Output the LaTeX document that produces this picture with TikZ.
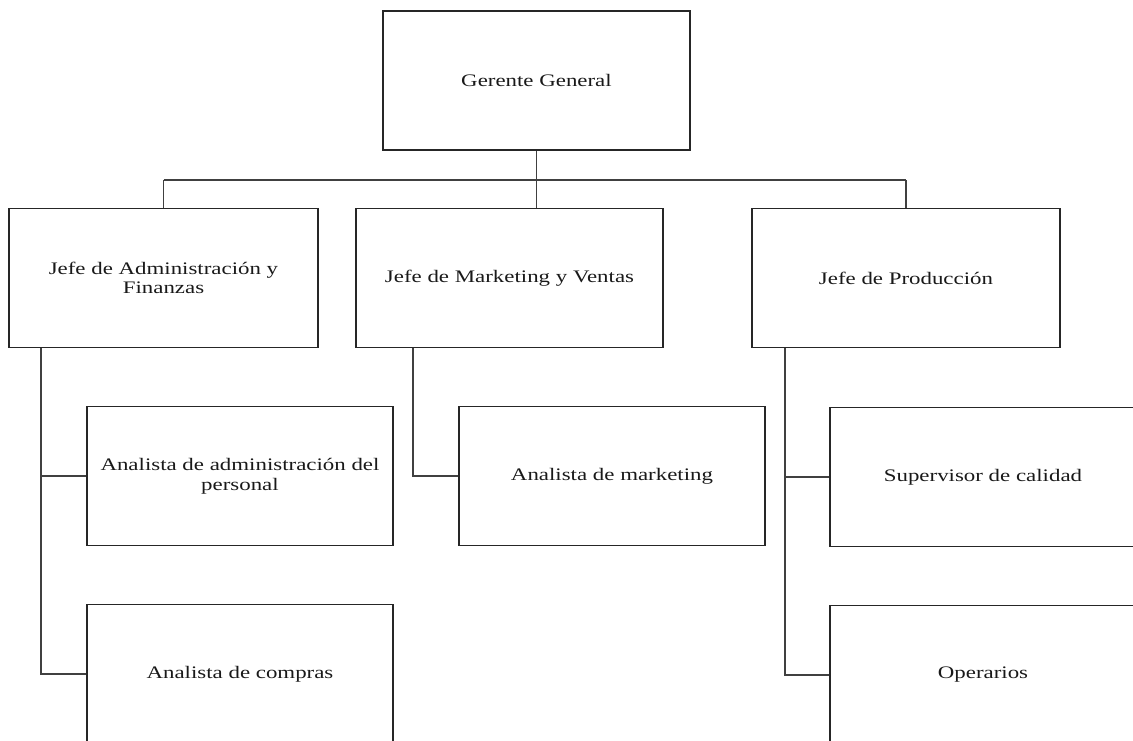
\documentclass[tikz,border=0pt]{standalone}
\usepackage{fontspec}
\setmainfont[FakeStretch=1.3]{Liberation Serif}
\begin{document}
\begin{tikzpicture}[x=1pt,y=-1pt,
  box/.style={draw=black!85,line width=1.6pt,minimum width=#1,minimum height=139pt,inner sep=0pt,align=center,font=\fontsize{17.6}{19.5}\selectfont,text=black!90},
  box/.default=307pt,
  link/.style={draw=black!75,line width=1.5pt}]
\useasboundingbox (0,0) rectangle (1133,740);
\clip (0,0) rectangle (1133,740);
\node[box] (gg) at (536.5,80.5) {Gerente General};
\node[box=309pt] (jaf) at (163.5,278) {Jefe de Administración y\\Finanzas};
\node[box] (jmv) at (509.5,278) {Jefe de Marketing y Ventas};
\node[box=308pt] (jp) at (906,278) {Jefe de Producción};
\node[box=306pt] (aap) at (240,476) {Analista de administración del\\personal};
\node[box=306pt] (ac) at (240,674) {Analista de compras};
\node[box=306pt] (am) at (612,476) {Analista de marketing};
\node[box=306pt] (sc) at (983,477) {Supervisor de calidad};
\node[box=306pt] (op) at (983,675) {Operarios};
\coordinate (hub) at (536.5,180);
\coordinate (hl) at (163.5,180);
\coordinate (hr) at (906,180);
\draw[link] (gg.south) -- (gg.south |- jmv.north);
\draw[link] (hl) -- (hr);
\draw[link] (hl) -- (jaf.north);
\draw[link] (hr) -- (jp.north);
% Administración
\coordinate (ta) at (41,348);
\draw[link] (ta) -- (ta |- ac.west) -- (ac.west);
\draw[link] (ta |- aap.west) -- (aap.west);
% Marketing
\coordinate (tm) at (413,348);
\draw[link] (tm) -- (tm |- am.west) -- (am.west);
% Producción
\coordinate (tp) at (785,348);
\draw[link] (tp) -- (tp |- op.west) -- (op.west);
\draw[link] (tp |- sc.west) -- (sc.west);
\end{tikzpicture}
\end{document}
